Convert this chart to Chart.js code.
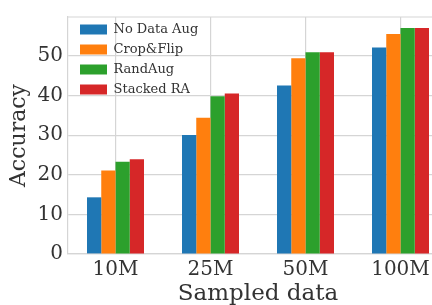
<!DOCTYPE html>
<html>
<head>
<meta charset="utf-8">
<script src="https://cdn.jsdelivr.net/npm/chart.js@4"></script>
<style>
  html, body { margin: 0; padding: 0; background: #fff; overflow: hidden; }
  #wrap { width: 448px; height: 305px; }
</style>
</head>
<body>
<div id="wrap"><canvas id="accChart" width="448" height="305"></canvas></div>
<script>
const categories = ['10M', '25M', '50M', '100M'];
const seriesNames = ['No Data Aug', 'Crop&Flip', 'RandAug', 'Stacked RA'];
const noDataAug = [14.3, 30.0, 42.5, 52.1];
const cropFlip = [21.1, 34.4, 49.4, 55.5];
const randAug = [23.3, 39.8, 50.9, 57.0];
const stackedRA = [23.9, 40.5, 50.9, 57.0];
const yTicks = [0, 10, 20, 30, 40, 50];
const colors = ['#1f77b4', '#ff7f0e', '#2ca02c', '#d62728'];

const serif = "'DejaVu Serif', serif";
const gridColor = '#d5d5d5';
const textColor = '#333';

// top spine + nudge the legend into place inside the axes
const framePlugin = {
    id: 'frame',
    afterLayout(chart) {
        const lg = chart.legend;
        if (lg) {
            lg.left += 5; lg.right += 5;
            lg.top += 16; lg.bottom += 16;
        }
    },
    afterDraw(chart) {
        const { ctx, chartArea } = chart;
        ctx.save();
        ctx.strokeStyle = gridColor;
        ctx.lineWidth = 1.2;
        ctx.beginPath();
        ctx.moveTo(chartArea.left, chartArea.top);
        ctx.lineTo(chartArea.right, chartArea.top);
        ctx.stroke();
        ctx.restore();
    }
};

new Chart(document.getElementById('accChart'), {
    type: 'bar',
    data: {
        labels: categories,
        datasets: [noDataAug, cropFlip, randAug, stackedRA].map((vals, i) => ({
            label: seriesNames[i],
            data: vals,
            backgroundColor: colors[i],
            borderWidth: 0,
            categoryPercentage: 0.6,
            barPercentage: 1.0
        }))
    },
    options: {
        responsive: false,
        animation: false,
        layout: { padding: { top: 10, left: 0, right: 0, bottom: 0 } },
        plugins: {
            legend: {
                position: 'chartArea',
                align: 'start',
                labels: {
                    boxWidth: 27,
                    boxHeight: 10,
                    padding: 7,
                    color: textColor,
                    font: { family: serif, size: 13 }
                }
            },
            tooltip: { enabled: false }
        },
        scales: {
            x: {
                offset: true,
                afterFit(scale) { scale.height = 51; },
                grid: { offset: false, color: gridColor, lineWidth: 1.2, drawTicks: false },
                border: { color: gridColor, width: 1.2 },
                ticks: { color: textColor, padding: 4, font: { family: serif, size: 20 } },
                title: { display: true, text: 'Sampled data', color: textColor, padding: { top: -3, bottom: -3 }, font: { family: serif, size: 23 } }
            },
            y: {
                min: 0,
                max: 59.8,
                afterFit(scale) { scale.width = 68; },
                afterBuildTicks(scale) { scale.ticks = yTicks.map(v => ({ value: v })); },
                grid: { color: gridColor, lineWidth: 1.2, drawTicks: false },
                border: { color: gridColor, width: 1.2 },
                ticks: { color: textColor, padding: 5, font: { family: serif, size: 20 } },
                title: { display: true, text: 'Accuracy', color: textColor, padding: { top: 6, bottom: 0 }, font: { family: serif, size: 22 } }
            }
        }
    },
    plugins: [framePlugin]
});
</script>
</body>
</html>
